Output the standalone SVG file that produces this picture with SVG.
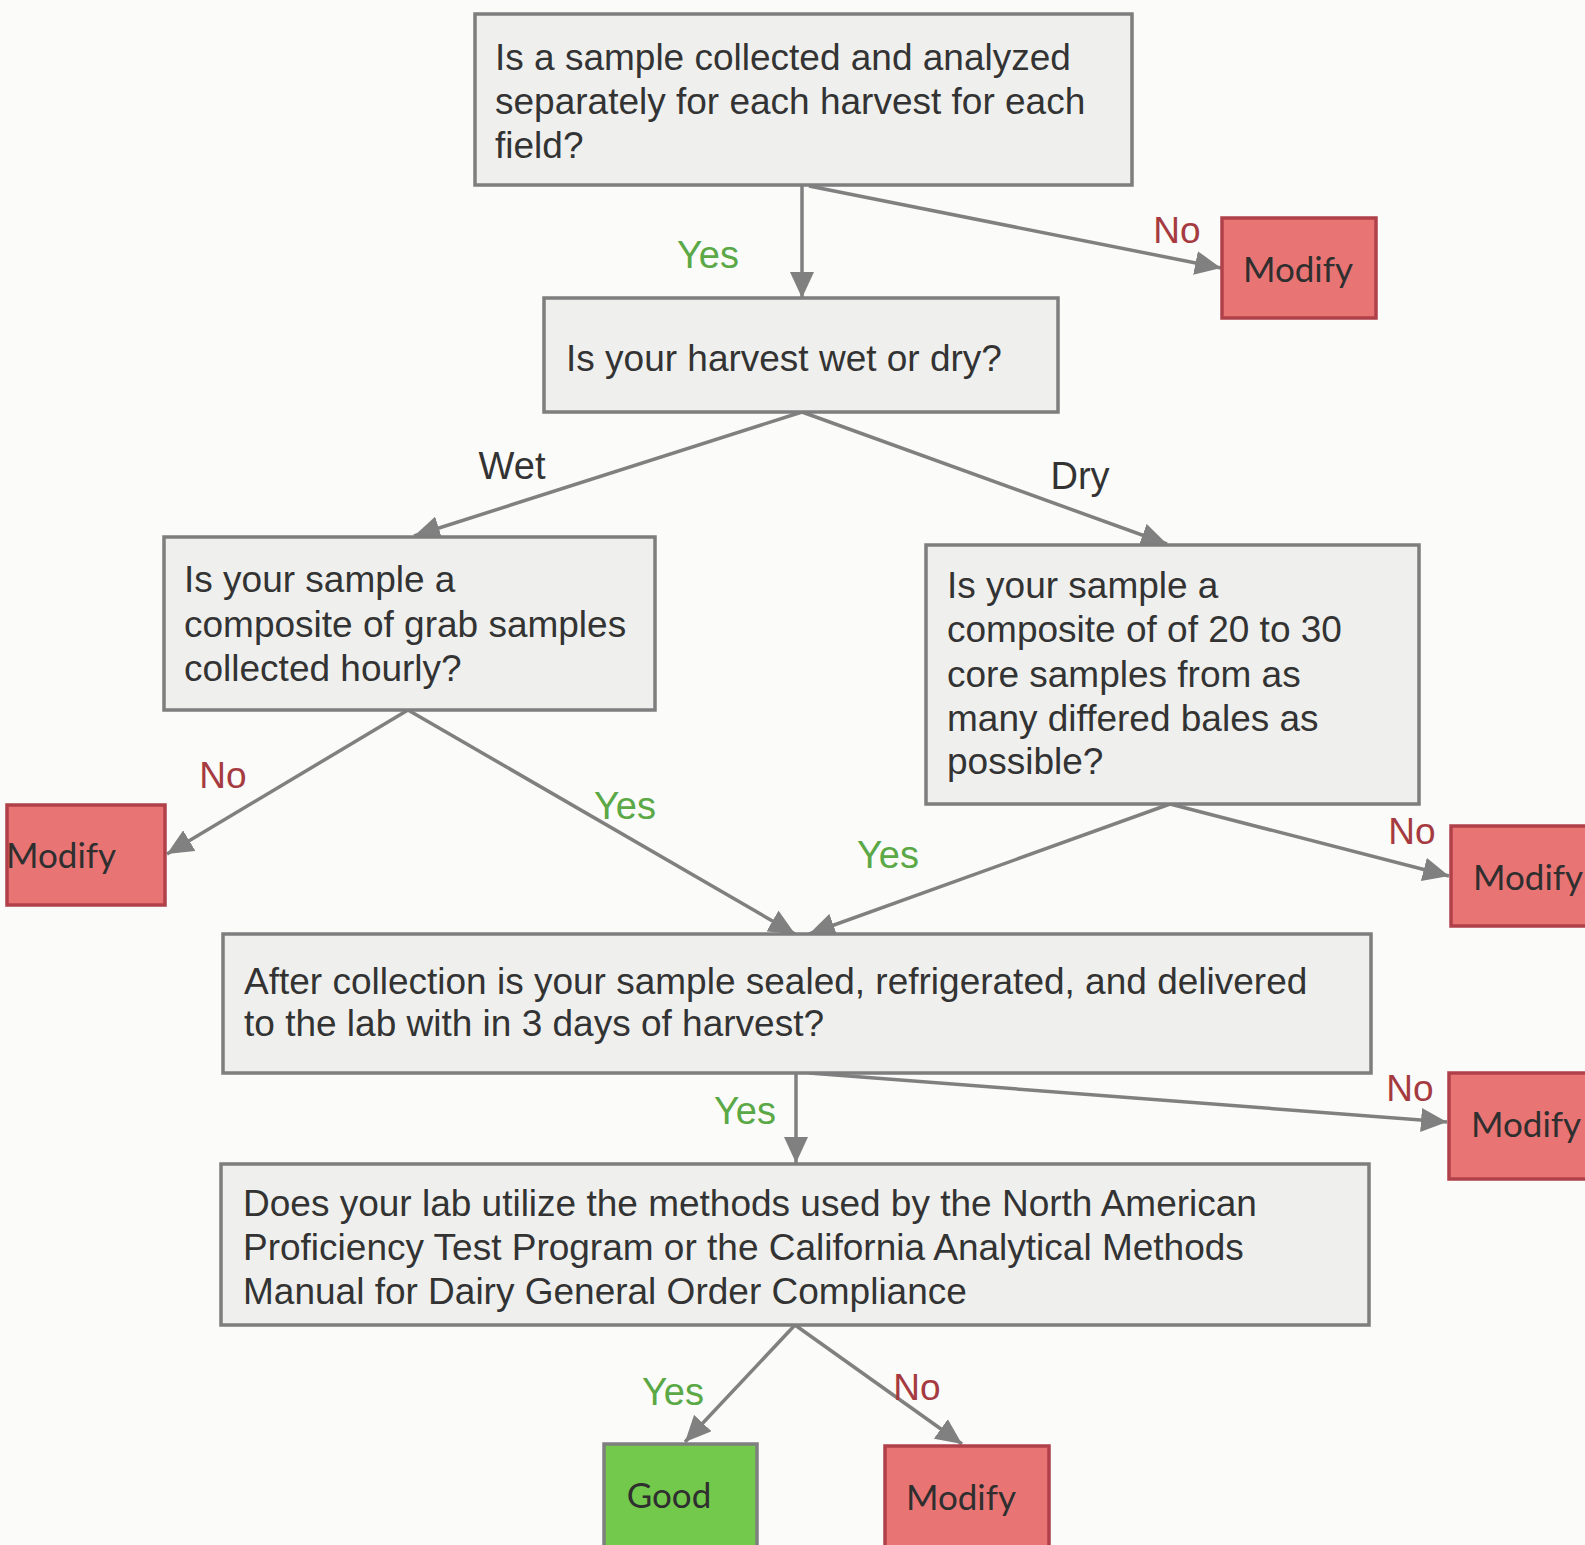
<svg xmlns="http://www.w3.org/2000/svg" width="1585" height="1545" viewBox="0 0 1585 1545">
  <style>
    .q { fill: #eff0ee; stroke: #7e7e7e; stroke-width: 3.5; }
    .bad { fill: #e97474; stroke: #b0404a; stroke-width: 3.5; }
    .ok { fill: #72c94b; stroke: #7f7f7f; stroke-width: 3.5; }
    .qt { font-family: "Liberation Sans", Arial, sans-serif; font-size: 37px; fill: #333333; }
    .rt { font-family: Lato, "Liberation Sans", sans-serif; font-size: 35px; fill: #2f2f2f; }
    .yes { font-family: "Liberation Sans", Arial, sans-serif; font-size: 38px; fill: #5aa846; }
    .no { font-family: "Liberation Sans", Arial, sans-serif; font-size: 37px; fill: #a53a40; }
    .br { font-family: "Liberation Sans", Arial, sans-serif; font-size: 38px; fill: #333333; }
    .ln { fill: none; stroke: #808080; stroke-width: 3.5; marker-end: url(#head); }
  </style>
  <defs>
    <marker id="head" markerUnits="userSpaceOnUse" markerWidth="28" markerHeight="24" refX="26" refY="12" orient="auto">
      <path d="M0,0 L26,12 L0,24 Z" fill="#808080"/>
    </marker>
  </defs>

  <rect width="1585" height="1545" fill="#fbfbf9"/>

  <!-- connectors -->
  <g id="connectors">
    <line class="ln" x1="802" y1="185" x2="802" y2="298"/>
    <line class="ln" x1="809" y1="186" x2="1221" y2="268"/>
    <line class="ln" x1="802" y1="412" x2="414" y2="536"/>
    <line class="ln" x1="802" y1="412" x2="1167" y2="544"/>
    <line class="ln" x1="408" y1="710" x2="167" y2="854"/>
    <line class="ln" x1="408" y1="710" x2="795" y2="934"/>
    <line class="ln" x1="1170" y1="804" x2="809" y2="934"/>
    <line class="ln" x1="1170" y1="804" x2="1449" y2="876"/>
    <line class="ln" x1="796" y1="1073" x2="796" y2="1163"/>
    <line class="ln" x1="809" y1="1073" x2="1447" y2="1122"/>
    <line class="ln" x1="795" y1="1325" x2="685" y2="1442"/>
    <line class="ln" x1="795" y1="1325" x2="962" y2="1444"/>

    <text class="yes" x="708" y="268" text-anchor="middle">Yes</text>
    <text class="no" x="1177" y="243" text-anchor="middle">No</text>
    <text class="br" x="512" y="479" text-anchor="middle">Wet</text>
    <text class="br" x="1080" y="489" text-anchor="middle">Dry</text>
    <text class="no" x="223" y="788" text-anchor="middle">No</text>
    <text class="yes" x="625" y="819" text-anchor="middle">Yes</text>
    <text class="yes" x="888" y="868" text-anchor="middle">Yes</text>
    <text class="no" x="1412" y="844" text-anchor="middle">No</text>
    <text class="yes" x="745" y="1124" text-anchor="middle">Yes</text>
    <text class="no" x="1410" y="1101" text-anchor="middle">No</text>
    <text class="yes" x="673" y="1405" text-anchor="middle">Yes</text>
    <text class="no" x="917" y="1400" text-anchor="middle">No</text>
  </g>

  <!-- questions -->
  <g id="q-separate">
    <rect class="q" x="475" y="14" width="657" height="171"/>
    <text class="qt" x="495" y="70">Is a sample collected and analyzed</text>
    <text class="qt" x="495" y="114">separately for each harvest for each</text>
    <text class="qt" x="495" y="158">field?</text>
  </g>
  <g id="q-wet-dry">
    <rect class="q" x="544" y="298" width="514" height="114"/>
    <text class="qt" x="566" y="371">Is your harvest wet or dry?</text>
  </g>
  <g id="q-wet">
    <rect class="q" x="164" y="537" width="491" height="173"/>
    <text class="qt" x="184" y="592">Is your sample a</text>
    <text class="qt" x="184" y="637">composite of grab samples</text>
    <text class="qt" x="184" y="681">collected hourly?</text>
  </g>
  <g id="q-dry">
    <rect class="q" x="926" y="545" width="493" height="259"/>
    <text class="qt" x="947" y="598">Is your sample a</text>
    <text class="qt" x="947" y="642">composite of of 20 to 30</text>
    <text class="qt" x="947" y="687">core samples from as</text>
    <text class="qt" x="947" y="731">many differed bales as</text>
    <text class="qt" x="947" y="774">possible?</text>
  </g>
  <g id="q-delivery">
    <rect class="q" x="223" y="934" width="1148" height="139"/>
    <text class="qt" x="244" y="994">After collection is your sample sealed, refrigerated, and delivered</text>
    <text class="qt" x="244" y="1036">to the lab with in 3 days of harvest?</text>
  </g>
  <g id="q-methods">
    <rect class="q" x="221" y="1164" width="1148" height="161"/>
    <text class="qt" x="243" y="1216">Does your lab utilize the methods used by the North American</text>
    <text class="qt" x="243" y="1260">Proficiency Test Program or the California Analytical Methods</text>
    <text class="qt" x="243" y="1304">Manual for Dairy General Order Compliance</text>
  </g>

  <!-- outcomes -->
  <g id="modify-1">
    <rect class="bad" x="1222" y="218" width="154" height="100"/>
    <text class="rt" x="1298" y="282" text-anchor="middle">Modify</text>
  </g>
  <g id="modify-2">
    <rect class="bad" x="7" y="805" width="158" height="100"/>
    <text class="rt" x="6" y="868">Modify</text>
  </g>
  <g id="modify-3">
    <rect class="bad" x="1451" y="826" width="140" height="100"/>
    <text class="rt" x="1473" y="890">Modify</text>
  </g>
  <g id="modify-4">
    <rect class="bad" x="1449" y="1073" width="142" height="106"/>
    <text class="rt" x="1471" y="1137">Modify</text>
  </g>
  <g id="good">
    <rect class="ok" x="604" y="1444" width="153" height="110"/>
    <text class="rt" x="669" y="1508" text-anchor="middle">Good</text>
  </g>
  <g id="modify-5">
    <rect class="bad" x="885" y="1446" width="164" height="110"/>
    <text class="rt" x="961" y="1510" text-anchor="middle">Modify</text>
  </g>
</svg>
